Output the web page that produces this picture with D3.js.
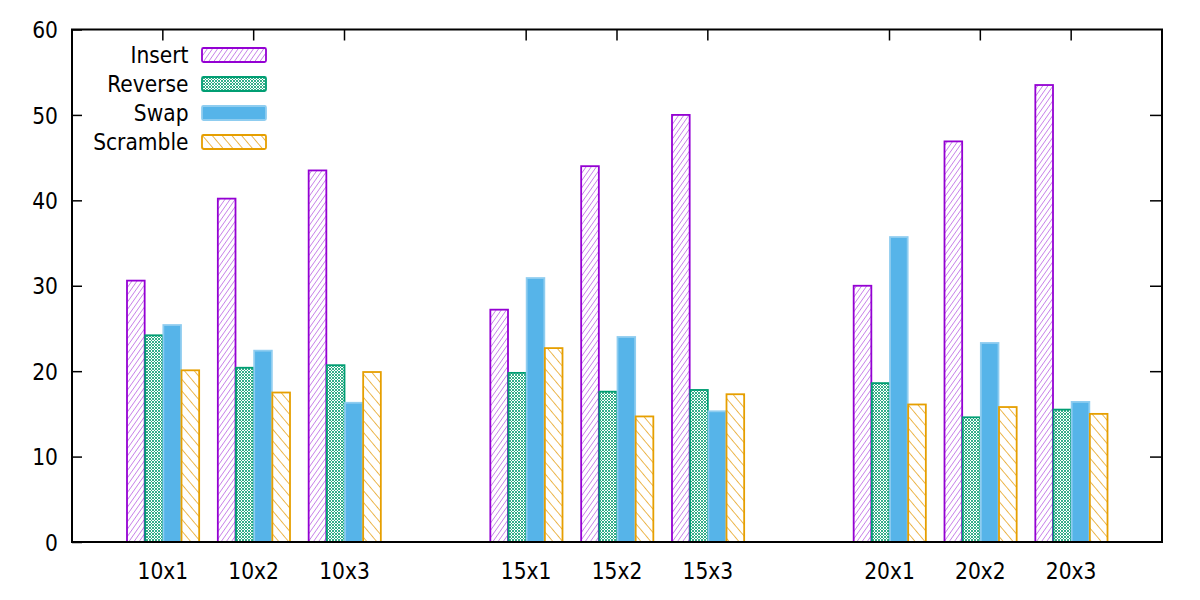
<!DOCTYPE html>
<html><head><meta charset="utf-8">
<script src="https://cdn.jsdelivr.net/npm/d3@7"></script>
<style>html,body{margin:0;padding:0;background:#fff}svg{display:block}text{font-family:"DejaVu Sans Condensed","Liberation Sans",sans-serif;font-stretch:condensed}</style>
</head><body>
<svg id="chart" width="1200" height="600"></svg>
<script>
const groups = [["10x1","10x2","10x3"],["15x1","15x2","15x3"],["20x1","20x2","20x3"]];
const seriesNames = ["Insert","Reverse","Swap","Scramble"];
const insertVals   = [30.6, 40.2, 43.5, 27.2, 44.0, 50.0, 30.0, 46.9, 53.5];
const reverseVals  = [24.2, 20.4, 20.7, 19.8, 17.6, 17.8, 18.6, 14.6, 15.5];
const swapVals     = [25.4, 22.4, 16.3, 30.9, 24.0, 15.3, 35.7, 23.3, 16.4];
const scrambleVals = [20.1, 17.5, 19.9, 22.7, 14.7, 17.3, 16.1, 15.8, 15.0];
const yTicks = [0,10,20,30,40,50,60];

const seriesVals = [insertVals, reverseVals, swapVals, scrambleVals];
const categories = groups.flat();
const domain = [];
groups.forEach((g,i)=>{ if(i>0) domain.push("__gap"+i); g.forEach(c=>domain.push(c)); });

const L=72, R=1162, T=29.5, B=542;
const FS = "22.5px";
const svg = d3.select("#chart");
const x = d3.scaleBand().domain(domain).range([L,R]).paddingInner(0).paddingOuter(0.5);
const step = x.step();
const xs = d3.scaleBand().domain(seriesNames).range([0.1*step, 0.9*step]).padding(0);
const y = d3.scaleLinear().domain([0,60]).range([B,T]);

const defs = svg.append("defs");
const p1 = defs.append("pattern").attr("id","pInsert").attr("patternUnits","userSpaceOnUse")
  .attr("width",4.2).attr("height",4.2).attr("patternTransform","rotate(35)");
p1.append("line").attr("x1",0).attr("y1",0).attr("x2",0).attr("y2",4.2)
  .attr("stroke","#b04fe0").attr("stroke-width",1.2);
const p2 = defs.append("pattern").attr("id","pReverse").attr("patternUnits","userSpaceOnUse")
  .attr("width",3).attr("height",3);
p2.append("path").attr("d","M0,0L3,3M3,0L0,3").attr("stroke","#1ea67c").attr("stroke-width",0.9).attr("fill","none");
const p4 = defs.append("pattern").attr("id","pScramble").attr("patternUnits","userSpaceOnUse")
  .attr("width",7.5).attr("height",7.5).attr("patternTransform","rotate(-40)");
p4.append("line").attr("x1",0).attr("y1",0).attr("x2",0).attr("y2",7.5)
  .attr("stroke","#e9ac35").attr("stroke-width",1.7);

const styles = [
  {fill:"url(#pInsert)", stroke:"#9400d3"},
  {fill:"url(#pReverse)", stroke:"#009e73"},
  {fill:"#56b4e9", stroke:"#8fcdf0"},
  {fill:"url(#pScramble)", stroke:"#e69f00"}
];

const yAxisL = d3.axisLeft(y).tickValues(yTicks).tickSize(-10).tickPadding(14).tickSizeOuter(0);
const gL = svg.append("g").attr("transform",`translate(${L},0)`).call(yAxisL);
const yAxisR = d3.axisRight(y).tickValues(yTicks.slice(1,-1)).tickSize(-12).tickFormat("").tickSizeOuter(0);
const gR = svg.append("g").attr("transform",`translate(${R},0)`).call(yAxisR);
const xAxisT = d3.axisTop(x).tickValues(categories).tickSize(-11).tickFormat("").tickSizeOuter(0);
const gT = svg.append("g").attr("transform",`translate(0,${T})`).call(xAxisT);
const xAxisB = d3.axisBottom(x).tickValues(categories).tickSize(0).tickPadding(21).tickSizeOuter(0);
const gB = svg.append("g").attr("transform",`translate(0,${B})`).call(xAxisB);
[gL,gR,gT,gB].forEach(g=>{
  g.select(".domain").remove();
  g.selectAll(".tick line").attr("stroke","#000").attr("stroke-width",1.5);
  g.selectAll("text").attr("fill","#000").style("font-size",FS);
});
gL.selectAll("text").attr("dy","0.36em");

seriesNames.forEach((s,si)=>{
  svg.append("g").selectAll("rect").data(categories).join("rect")
    .attr("x",c=>x(c)+xs(s)+0.5)
    .attr("width",xs.bandwidth()-0.5)
    .attr("y",(c,i)=>y(seriesVals[si][i]))
    .attr("height",(c,i)=>B-y(seriesVals[si][i]))
    .attr("fill",styles[si].fill).attr("stroke",styles[si].stroke).attr("stroke-width",1.8);
});

svg.append("rect").attr("x",L).attr("y",T).attr("width",R-L).attr("height",B-T)
  .attr("fill","none").attr("stroke","#000").attr("stroke-width",2);

const leg = svg.append("g");
const ly = d3.scalePoint().domain(seriesNames).range([55,142]);
seriesNames.forEach((s,si)=>{
  leg.append("text").attr("x",188.5).attr("y",ly(s)).attr("dy","0.36em").attr("text-anchor","end")
    .style("font-size",FS).text(s);
  leg.append("rect").attr("x",202).attr("y",ly(s)-7).attr("width",64).attr("height",14).attr("rx",1.5)
    .attr("fill",styles[si].fill).attr("stroke",styles[si].stroke).attr("stroke-width",1.8);
});
</script>
</body></html>
